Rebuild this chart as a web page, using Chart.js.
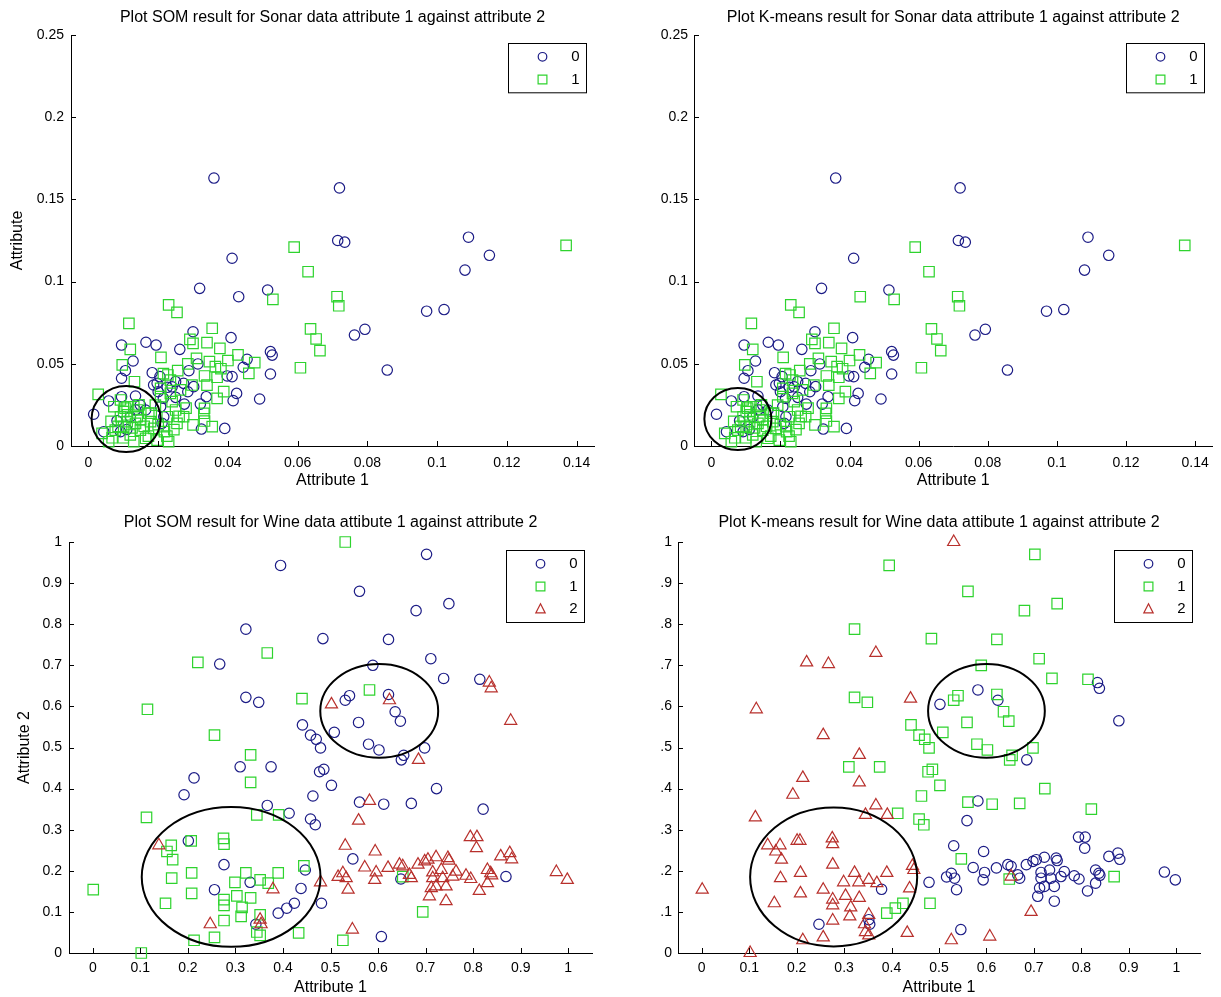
<!DOCTYPE html>
<html>
<head>
<meta charset="utf-8">
<title>SOM vs K-means clusters</title>
<script src="https://cdn.jsdelivr.net/npm/chart.js@4.4.1/dist/chart.umd.min.js"></script>
<style>
  html, body { margin: 0; padding: 0; background: #fff; }
  body { position: relative; width: 1221px; height: 997px; overflow: hidden; }
  canvas { position: absolute; display: block; }
</style>
</head>
<body>
<canvas id="sonarSomChart" width="610" height="497" style="left:0;top:0"></canvas>
<canvas id="sonarKmeansChart" width="611" height="497" style="left:610px;top:0"></canvas>
<canvas id="wineSomChart" width="610" height="500" style="left:0;top:497px"></canvas>
<canvas id="wineKmeansChart" width="561" height="500" style="left:660px;top:497px"></canvas>
<script>
// ---------- sonar data: attribute 1 / attribute 2 ----------
const sonarAttr1 = [
  // som cluster 0
  0.036, 0.072, 0.0715, 0.0735, 0.109, 0.115, 0.0412, 0.108, 0.097, 0.102, 0.0763, 0.0793, 0.0857,
  0.0319, 0.0431, 0.0514, 0.0300, 0.0409, 0.0095, 0.0165, 0.0194, 0.0262, 0.0128,
  0.0106, 0.0095, 0.0183, 0.0205, 0.0314, 0.0288, 0.0522, 0.0527, 0.0522, 0.0455,
  0.0444, 0.0398, 0.0412, 0.0425, 0.0415, 0.0491, 0.0391, 0.0324, 0.0338, 0.0302,
  0.0187, 0.0197, 0.0250, 0.0273, 0.0226, 0.0250, 0.0275, 0.0321, 0.0058, 0.0095,
  0.0135, 0.0015, 0.0082, 0.0149, 0.0164, 0.0207, 0.0216, 0.0092, 0.0044, 0.0120,
  0.0211, 0.0200, 0.0240, 0.0215, 0.0110, 0.0135, 0.0285,
  // som cluster 1
  0.059, 0.137, 0.063, 0.0713, 0.0718, 0.0637, 0.0653, 0.0664, 0.0608,
  0.0529, 0.0230, 0.0254, 0.0116, 0.0355, 0.0291, 0.0300, 0.0340, 0.0377, 0.0120,
  0.0208, 0.0429, 0.0477, 0.0310, 0.0347, 0.0364, 0.0369, 0.0333, 0.0460, 0.0097,
  0.0132, 0.0256, 0.0228, 0.0388, 0.0369, 0.0333, 0.0331, 0.0300, 0.0355, 0.0333,
  0.0028, 0.0073, 0.0111, 0.0140, 0.0178, 0.0226, 0.0240, 0.0264, 0.0235, 0.0207,
  0.0273, 0.0254, 0.0218, 0.0230, 0.0197, 0.0039, 0.0058, 0.0077, 0.0101, 0.0120,
  0.0135, 0.0149, 0.0164, 0.0130, 0.0111, 0.0092, 0.0140, 0.0187, 0.0173, 0.0101,
  0.0130, 0.0216, 0.0092, 0.0192, 0.0250, 0.0207, 0.0297,
  0.0065, 0.0085, 0.0100, 0.0112, 0.0125, 0.0150, 0.0160, 0.0172, 0.0105, 0.0145,
  0.0068, 0.0180, 0.0200, 0.0225, 0.0245, 0.0260, 0.0280, 0.0235, 0.0215, 0.0285,
  0.0340, 0.0380, 0.0400,
];
const sonarAttr2 = [
  0.163, 0.157, 0.125, 0.124, 0.127, 0.116, 0.1142, 0.107, 0.082, 0.083, 0.0675, 0.071, 0.0462,
  0.0959, 0.0908, 0.0949, 0.0695, 0.0659, 0.0614, 0.0631, 0.0614, 0.0588, 0.0517,
  0.0458, 0.0412, 0.0446, 0.0422, 0.0499, 0.0458, 0.0574, 0.0553, 0.0438, 0.0527,
  0.0479, 0.0426, 0.0422, 0.0320, 0.0276, 0.0286, 0.0107, 0.0103, 0.0300, 0.0361,
  0.0371, 0.0381, 0.0391, 0.0381, 0.0357, 0.0296, 0.0255, 0.0255, 0.0274, 0.0300,
  0.0304, 0.0193, 0.0154, 0.0249, 0.0219, 0.0239, 0.0178, 0.0087, 0.0087, 0.0178,
  0.0138, 0.0330, 0.0360, 0.0290, 0.0100, 0.0220, 0.0330,
  0.121, 0.122, 0.106, 0.0908, 0.0853, 0.0712, 0.0651, 0.058, 0.0476,
  0.0892, 0.0858, 0.0813, 0.0746, 0.0716, 0.0649, 0.0624, 0.0629, 0.0594, 0.0588,
  0.0539, 0.0554, 0.0507, 0.0533, 0.0513, 0.0483, 0.0418, 0.0426, 0.0442, 0.0493,
  0.0391, 0.0458, 0.0432, 0.0331, 0.0290, 0.0229, 0.0199, 0.0128, 0.0118, 0.0152,
  0.0314, 0.0239, 0.0239, 0.0219, 0.0148, 0.0178, 0.0270, 0.0341, 0.0401, 0.0300,
  0.0178, 0.0138, 0.0087, 0.0026, 0.0036, 0.0077, 0.0026, 0.0097, 0.0118, 0.0067,
  0.0138, 0.0097, 0.0047, 0.0026, 0.0148, 0.0178, 0.0178, 0.0107, 0.0199, 0.0209,
  0.0239, 0.0118, 0.0280, 0.0249, 0.0219, 0.0351, 0.0371,
  0.0150, 0.0120, 0.0050, 0.0190, 0.0110, 0.0160, 0.0120, 0.0060, 0.0230, 0.0250,
  0.0050, 0.0200, 0.0130, 0.0060, 0.0100, 0.0180, 0.0230, 0.0320, 0.0440, 0.0500,
  0.0370, 0.0470, 0.0520,
];
const sonarSom = [
  0, 0, 0, 0, 0, 0, 0, 0, 0, 0, 0, 0, 0,
  0, 0, 0, 0, 0, 0, 0, 0, 0, 0,
  0, 0, 0, 0, 0, 0, 0, 0, 0, 0,
  0, 0, 0, 0, 0, 0, 0, 0, 0, 0,
  0, 0, 0, 0, 0, 0, 0, 0, 0, 0,
  0, 0, 0, 0, 0, 0, 0, 0, 0, 0,
  0, 0, 0, 0, 0, 0, 0,
  1, 1, 1, 1, 1, 1, 1, 1, 1,
  1, 1, 1, 1, 1, 1, 1, 1, 1, 1,
  1, 1, 1, 1, 1, 1, 1, 1, 1, 1,
  1, 1, 1, 1, 1, 1, 1, 1, 1, 1,
  1, 1, 1, 1, 1, 1, 1, 1, 1, 1,
  1, 1, 1, 1, 1, 1, 1, 1, 1, 1,
  1, 1, 1, 1, 1, 1, 1, 1, 1, 1,
  1, 1, 1, 1, 1, 1, 1,
  1, 1, 1, 1, 1, 1, 1, 1, 1, 1,
  1, 1, 1, 1, 1, 1, 1, 1, 1, 1,
  1, 1, 1,
];
const sonarKmeans = [
  0, 0, 0, 0, 0, 0, 0, 0, 0, 0, 0, 0, 0,
  0, 1, 0, 0, 0, 0, 0, 0, 0, 0,
  0, 0, 0, 0, 0, 0, 0, 0, 0, 0,
  0, 0, 0, 0, 0, 0, 0, 0, 0, 0,
  0, 0, 0, 0, 0, 0, 0, 0, 0, 0,
  0, 0, 0, 0, 0, 0, 0, 0, 0, 0,
  0, 0, 0, 0, 0, 0, 0,
  1, 1, 1, 1, 1, 1, 1, 1, 1,
  1, 1, 1, 1, 1, 1, 1, 1, 1, 1,
  1, 1, 1, 1, 1, 1, 1, 1, 1, 1,
  1, 1, 1, 1, 1, 1, 1, 1, 1, 1,
  1, 1, 1, 1, 1, 1, 1, 1, 1, 1,
  1, 1, 1, 1, 1, 1, 1, 1, 1, 1,
  1, 1, 1, 1, 1, 1, 1, 1, 1, 1,
  1, 1, 1, 1, 1, 1, 1,
  1, 1, 1, 1, 1, 1, 1, 1, 1, 1,
  1, 1, 1, 1, 1, 1, 1, 1, 1, 1,
  1, 1, 1,
];

// ---------- wine data: attribute 1 / attribute 2 ----------
const wineAttr1 = [
  // som cluster 0
  0.395, 0.322, 0.484, 0.267, 0.322, 0.349, 0.441, 0.458, 0.470, 0.479,
  0.508, 0.310, 0.375, 0.213, 0.192, 0.477, 0.486, 0.502, 0.463, 0.367,
  0.413, 0.458, 0.468, 0.201, 0.276, 0.256, 0.331, 0.447, 0.438, 0.481,
  0.390, 0.408, 0.424, 0.343, 0.702, 0.561, 0.749, 0.680, 0.622, 0.711,
  0.589, 0.738, 0.814, 0.540, 0.531, 0.622, 0.636, 0.647, 0.559, 0.580,
  0.602, 0.654, 0.649, 0.698, 0.723, 0.561, 0.612, 0.670, 0.821, 0.547,
  0.869, 0.607, 0.648,
  // som cluster 1
  0.367, 0.221, 0.440, 0.115, 0.256, 0.332, 0.332, 0.113, 0.345, 0.391,
  0.207, 0.275, 0.276, 0.165, 0.156, 0.168, 0.166, 0.208, 0.208, 0.153,
  0.001, 0.322, 0.299, 0.352, 0.369, 0.390, 0.444, 0.276, 0.276, 0.303,
  0.332, 0.314, 0.312, 0.352, 0.276, 0.345, 0.352, 0.256, 0.213, 0.433,
  0.102, 0.531, 0.582, 0.694, 0.526, 0.652,
  // som cluster 2
  0.502, 0.139, 0.247, 0.352, 0.354, 0.379, 0.479, 0.834, 0.838, 0.624,
  0.879, 0.685, 0.582, 0.559, 0.531, 0.594, 0.794, 0.808, 0.807, 0.858,
  0.877, 0.881, 0.516, 0.526, 0.533, 0.537, 0.572, 0.596, 0.593, 0.621,
  0.645, 0.652, 0.666, 0.670, 0.684, 0.698, 0.705, 0.722, 0.715, 0.715,
  0.712, 0.708, 0.722, 0.733, 0.736, 0.747, 0.749, 0.743, 0.743, 0.757,
  0.764, 0.785, 0.795, 0.813, 0.830, 0.837, 0.839, 0.830, 0.975, 0.998,
  0.546,
];
const wineAttr2 = [
  0.943, 0.788, 0.765, 0.703, 0.622, 0.610, 0.555, 0.530, 0.520, 0.499,
  0.537, 0.453, 0.453, 0.426, 0.385, 0.441, 0.447, 0.408, 0.382, 0.359,
  0.340, 0.326, 0.312, 0.273, 0.215, 0.154, 0.172, 0.202, 0.157, 0.121,
  0.097, 0.109, 0.121, 0.070, 0.970, 0.880, 0.850, 0.833, 0.763, 0.716,
  0.700, 0.668, 0.666, 0.626, 0.615, 0.629, 0.587, 0.564, 0.561, 0.508,
  0.494, 0.481, 0.470, 0.499, 0.400, 0.367, 0.362, 0.364, 0.350, 0.229,
  0.186, 0.040, 0.180,
  0.730, 0.707, 0.619, 0.593, 0.530, 0.482, 0.415, 0.330, 0.336, 0.336,
  0.273, 0.279, 0.265, 0.262, 0.247, 0.227, 0.182, 0.195, 0.145, 0.121,
  0.154, 0.195, 0.172, 0.178, 0.170, 0.195, 0.212, 0.130, 0.116, 0.139,
  0.134, 0.111, 0.089, 0.093, 0.079, 0.051, 0.043, 0.038, 0.031, 0.049,
  0.000, 1.000, 0.640, 0.100, 0.031, 0.186,
  0.605, 0.262, 0.070, 0.081, 0.070, 0.155, 0.172, 0.658, 0.644, 0.615,
  0.565, 0.470, 0.370, 0.322, 0.261, 0.247, 0.282, 0.282, 0.255, 0.235,
  0.243, 0.228, 0.185, 0.194, 0.182, 0.154, 0.208, 0.196, 0.178, 0.207,
  0.215, 0.211, 0.190, 0.182, 0.215, 0.223, 0.227, 0.233, 0.196, 0.182,
  0.158, 0.138, 0.162, 0.202, 0.182, 0.231, 0.225, 0.162, 0.126, 0.186,
  0.198, 0.188, 0.180, 0.151, 0.202, 0.194, 0.189, 0.170, 0.197, 0.178,
  0.057,
];
const wineSom = [
  0, 0, 0, 0, 0, 0, 0, 0, 0, 0,
  0, 0, 0, 0, 0, 0, 0, 0, 0, 0,
  0, 0, 0, 0, 0, 0, 0, 0, 0, 0,
  0, 0, 0, 0, 0, 0, 0, 0, 0, 0,
  0, 0, 0, 0, 0, 0, 0, 0, 0, 0,
  0, 0, 0, 0, 0, 0, 0, 0, 0, 0,
  0, 0, 0,
  1, 1, 1, 1, 1, 1, 1, 1, 1, 1,
  1, 1, 1, 1, 1, 1, 1, 1, 1, 1,
  1, 1, 1, 1, 1, 1, 1, 1, 1, 1,
  1, 1, 1, 1, 1, 1, 1, 1, 1, 1,
  1, 1, 1, 1, 1, 1,
  2, 2, 2, 2, 2, 2, 2, 2, 2, 2,
  2, 2, 2, 2, 2, 2, 2, 2, 2, 2,
  2, 2, 2, 2, 2, 2, 2, 2, 2, 2,
  2, 2, 2, 2, 2, 2, 2, 2, 2, 2,
  2, 2, 2, 2, 2, 2, 2, 2, 2, 2,
  2, 2, 2, 2, 2, 2, 2, 2, 2, 2,
  2,
];
const wineKmeans = [
  1, 1, 1, 2, 1, 1, 1, 1, 1, 1,
  1, 1, 1, 2, 2, 1, 1, 1, 1, 2,
  1, 1, 1, 2, 2, 2, 2, 2, 2, 1,
  1, 1, 1, 2, 1, 1, 1, 1, 1, 1,
  1, 1, 1, 1, 1, 1, 1, 1, 1, 1,
  1, 1, 1, 1, 1, 1, 1, 1, 1, 1,
  1, 2, 1,
  2, 2, 2, 2, 2, 2, 2, 2, 2, 2,
  2, 2, 2, 2, 2, 2, 2, 2, 2, 2,
  2, 2, 2, 2, 2, 2, 2, 2, 2, 2,
  2, 2, 2, 2, 2, 2, 2, 2, 2, 2,
  2, 2, 0, 2, 2, 2,
  0, 2, 0, 0, 0, 0, 0, 0, 0, 0,
  0, 0, 0, 0, 0, 0, 0, 0, 0, 0,
  0, 0, 0, 0, 0, 0, 0, 0, 0, 0,
  0, 0, 0, 0, 0, 0, 0, 0, 0, 0,
  0, 0, 0, 0, 0, 0, 0, 0, 0, 0,
  0, 0, 0, 0, 0, 0, 0, 0, 0, 0,
  0,
];

// ---------- axes ----------
const sonarXTicks = [0, 0.02, 0.04, 0.06, 0.08, 0.1, 0.12, 0.14];
const sonarXLabels = ["0", "0.02", "0.04", "0.06", "0.08", "0.1", "0.12", "0.14"];
const sonarYTicks = [0, 0.05, 0.1, 0.15, 0.2, 0.25];
const sonarYLabels = ["0", "0.05", "0.1", "0.15", "0.2", "0.25"];
const wineTicks = [0, 0.1, 0.2, 0.3, 0.4, 0.5, 0.6, 0.7, 0.8, 0.9, 1];
const wineLabels = ["0", "0.1", "0.2", "0.3", "0.4", "0.5", "0.6", "0.7", "0.8", "0.9", "1"];

// highlighted regions (data units)
const sonarSomRings = [{ cx: 0.0108, cy: 0.0164, rx: 0.0099, ry: 0.0201 }];
const sonarKmeansRings = [{ cx: 0.0077, cy: 0.0164, rx: 0.0097, ry: 0.0189 }];
const wineSomRings = [
  { cx: 0.291, cy: 0.185, rx: 0.188, ry: 0.17 },
  { cx: 0.6025, cy: 0.589, rx: 0.124, ry: 0.114 },
];
const wineKmeansRings = [
  { cx: 0.278, cy: 0.185, rx: 0.176, ry: 0.169 },
  { cx: 0.6, cy: 0.589, rx: 0.123, ry: 0.114 },
];

const FONT = "'Liberation Sans', Arial, Helvetica, sans-serif";
const classStyles = [
  { pointStyle: "circle", color: "#1c1c86", radius: 5.2, legendSize: 4.3 },
  { pointStyle: "rect", color: "#2ed32e", radius: 7.4, legendSize: 4.4 },
  { pointStyle: "triangle", color: "#b8302c", radius: 7, legendSize: 5.4 },
];

//draw one legend marker by hand
const drawMarker = (ctx, style, x, y) => {
  const s = style.legendSize;
  ctx.strokeStyle = style.color;
  ctx.lineWidth = 1.2;
  ctx.beginPath();
  if (style.pointStyle === "circle") {
    ctx.arc(x, y, s, 0, Math.PI * 2);
  } else if (style.pointStyle === "rect") {
    ctx.rect(x - s, y - s, s * 2, s * 2);
  } else {
    ctx.moveTo(x, y - s);
    ctx.lineTo(x + s * 0.866, y + s * 0.5 + 1);
    ctx.lineTo(x - s * 0.866, y + s * 0.5 + 1);
    ctx.closePath();
  }
  ctx.stroke();
};

const panelDecor = {
  id: "panelDecor",
  afterDatasetsDraw(chart, args, opts) {
    const { ctx } = chart;
    const { x, y } = chart.scales;
    ctx.save();
    ctx.strokeStyle = "#000";
    ctx.lineWidth = 2;
    opts.rings.forEach((r) => {
      const cx = x.getPixelForValue(r.cx);
      const cy = y.getPixelForValue(r.cy);
      const rx = x.getPixelForValue(r.cx + r.rx) - cx;
      const ry = cy - y.getPixelForValue(r.cy + r.ry);
      ctx.beginPath();
      ctx.ellipse(cx, cy, rx, ry, 0, 0, Math.PI * 2);
      ctx.stroke();
    });
    ctx.restore();
  },
  afterDraw(chart, args, opts) {
    const { ctx, chartArea: area } = chart;
    const { x, y } = chart.scales;
    ctx.save();
    // inward tick marks
    ctx.strokeStyle = "#000";
    ctx.lineWidth = 1;
    ctx.beginPath();
    x.ticks.forEach((t) => {
      const px = Math.round(x.getPixelForValue(t.value)) + 0.5;
      ctx.moveTo(px, area.bottom);
      ctx.lineTo(px, area.bottom - 5);
    });
    y.ticks.forEach((t) => {
      const py = Math.round(y.getPixelForValue(t.value)) + 0.5;
      ctx.moveTo(area.left, py);
      ctx.lineTo(area.left + 5, py);
    });
    ctx.stroke();

    // title
    ctx.fillStyle = "#000";
    ctx.font = "16px " + FONT;
    ctx.textAlign = "center";
    ctx.textBaseline = "middle";
    ctx.fillText(opts.title, (area.left + area.right) / 2, area.top - opts.titleGap);

    // legend box
    const names = chart.data.datasets.map((d) => d.label);
    const w = 78, rowGap = 22.7, pad = 13.3;
    const h = pad * 2 + rowGap * (names.length - 1);
    const bx = Math.round(area.right - 8 - w) + 0.5;
    const by = Math.round(area.top + 8) + 0.5;
    ctx.fillStyle = "#fff";
    ctx.fillRect(bx, by, w, h);
    ctx.strokeStyle = "#000";
    ctx.lineWidth = 1;
    ctx.strokeRect(bx, by, w, h);
    ctx.font = "15px " + FONT;
    names.forEach((name, k) => {
      const cy = by + pad + k * rowGap;
      drawMarker(ctx, classStyles[k], bx + 34, cy);
      ctx.fillStyle = "#000";
      ctx.fillText(name, bx + 67, cy);
    });
    ctx.restore();
  },
};

const makePanel = (id, cfg) => {
  const datasets = cfg.classes.map((name, k) => ({
    label: name,
    data: cfg.xs
      .map((x, i) => ({ x, y: cfg.ys[i], c: cfg.clusters[i] }))
      .filter((p) => p.c === k),
    pointStyle: classStyles[k].pointStyle,
    pointRadius: classStyles[k].radius,
    pointBorderColor: classStyles[k].color,
    pointBackgroundColor: "rgba(0,0,0,0)",
    pointBorderWidth: 1.2,
    clip: false,
    order: cfg.classes.length - k,
  }));

  const tickFont = { family: FONT, size: 14 };
  const titleFont = { family: FONT, size: 16 };

  return new Chart(document.getElementById(id), {
    type: "scatter",
    data: { datasets },
    options: {
      responsive: false,
      animation: false,
      events: [],
      layout: { padding: cfg.pad },
      plugins: {
        legend: { display: false },
        tooltip: { enabled: false },
        panelDecor: { title: cfg.title, titleGap: cfg.titleGap, rings: cfg.rings },
      },
      scales: {
        x: {
          type: "linear",
          min: cfg.xMin,
          max: cfg.xMax,
          afterBuildTicks: (s) => {
            s.ticks = cfg.xTicks.map((value) => ({ value }));
          },
          afterFit: (s) => {
            s.height = cfg.xAxisHeight;
          },
          ticks: {
            autoSkip: false,
            maxRotation: 0,
            padding: cfg.xTickPad,
            color: "#000",
            font: tickFont,
            callback: (v, i) => cfg.xLabels[i],
          },
          grid: { display: false, drawTicks: false },
          border: { display: true, color: "#000", width: 1 },
          title: {
            display: true,
            text: "Attribute 1",
            color: "#000",
            font: titleFont,
            padding: { top: 0, bottom: cfg.xTitlePad },
          },
        },
        y: {
          type: "linear",
          min: 0,
          max: cfg.yMax,
          afterBuildTicks: (s) => {
            s.ticks = cfg.yTicks.map((value) => ({ value }));
          },
          afterFit: (s) => {
            s.width = cfg.yAxisWidth;
          },
          ticks: {
            autoSkip: false,
            padding: cfg.yTickPad,
            color: "#000",
            font: tickFont,
            callback: (v, i) => cfg.yLabels[i],
          },
          grid: { display: false, drawTicks: false },
          border: { display: true, color: "#000", width: 1 },
          title: {
            display: !!cfg.yTitle,
            text: cfg.yTitle || "",
            color: "#000",
            font: titleFont,
            padding: { top: cfg.yTitlePad || 0, bottom: 0 },
          },
        },
      },
    },
    plugins: [panelDecor],
  });
};

//create the four panels
makePanel("sonarSomChart", {
  title: "Plot SOM result for Sonar data attribute 1 against attribute 2",
  xs: sonarAttr1, ys: sonarAttr2, clusters: sonarSom, classes: ["0", "1"],
  rings: sonarSomRings,
  xMin: -0.005, xMax: 0.145, yMax: 0.25,
  xTicks: sonarXTicks, xLabels: sonarXLabels, yTicks: sonarYTicks, yLabels: sonarYLabels,
  pad: { left: 0, top: 35, right: 16, bottom: 0 },
  yAxisWidth: 71, xAxisHeight: 51, xTitlePad: 7, xTickPad: 9, yTickPad: 7,
  yTitle: "Attribute", yTitlePad: 8, titleGap: 17,
});

makePanel("sonarKmeansChart", {
  title: "Plot K-means result for Sonar data attribute 1 against attribute 2",
  xs: sonarAttr1, ys: sonarAttr2, clusters: sonarKmeans, classes: ["0", "1"],
  rings: sonarKmeansRings,
  xMin: -0.005, xMax: 0.145, yMax: 0.25,
  xTicks: sonarXTicks, xLabels: sonarXLabels, yTicks: sonarYTicks, yLabels: sonarYLabels,
  pad: { left: 0, top: 35, right: 4, bottom: 0 },
  yAxisWidth: 84, xAxisHeight: 51, xTitlePad: 7, xTickPad: 9, yTickPad: 6,
  titleGap: 17,
});

makePanel("wineSomChart", {
  title: "Plot SOM result for Wine data attibute 1 against attribute 2",
  xs: wineAttr1, ys: wineAttr2, clusters: wineSom, classes: ["0", "1", "2"],
  rings: wineSomRings,
  xMin: -0.05, xMax: 1.05, yMax: 1,
  xTicks: wineTicks, xLabels: wineLabels, yTicks: wineTicks, yLabels: wineLabels,
  pad: { left: 0, top: 45, right: 18, bottom: 0 },
  yAxisWidth: 69, xAxisHeight: 44, xTitlePad: 0, xTickPad: 7, yTickPad: 7,
  yTitle: "Attribute 2", yTitlePad: 15, titleGap: 19,
});

makePanel("wineKmeansChart", {
  title: "Plot K-means result for Wine data attibute 1 against attribute 2",
  xs: wineAttr1, ys: wineAttr2, clusters: wineKmeans, classes: ["0", "1", "2"],
  rings: wineKmeansRings,
  xMin: -0.05, xMax: 1.05, yMax: 1,
  xTicks: wineTicks, xLabels: wineLabels, yTicks: wineTicks, yLabels: wineLabels,
  pad: { left: 0, top: 45, right: 21, bottom: 0 },
  yAxisWidth: 18, xAxisHeight: 44, xTitlePad: 0, xTickPad: 7, yTickPad: 6,
  titleGap: 19,
});
</script>
</body>
</html>
